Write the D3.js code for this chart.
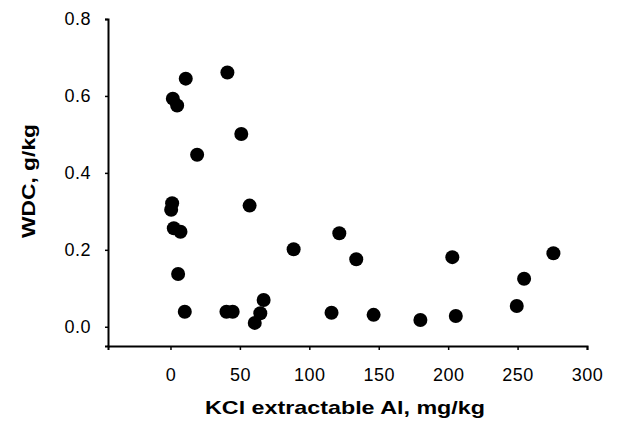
<!DOCTYPE html>
<html><head><meta charset="utf-8">
<script src="https://cdn.jsdelivr.net/npm/d3@7"></script>
<style>body{margin:0;background:#fff}svg{display:block}</style>
</head><body><svg id="c" width="617" height="436"></svg>
<script>
const kclAl = [1.7,4.8,11,41,51,19.2,1.2,0.5,57,2.4,7.2,5.5,10.3,40.3,44.8,60.7,64.7,67.1,88.7,121.6,133.8,116,146.3,180,203,205.5,249.4,254.7,275.8];
const wdc   = [0.593,0.575,0.645,0.661,0.501,0.447,0.321,0.304,0.315,0.256,0.247,0.137,0.039,0.039,0.039,0.010,0.035,0.0695,0.2015,0.243,0.1755,0.0365,0.031,0.0175,0.181,0.028,0.054,0.125,0.191];
const xTicks = [0,50,100,150,200,250,300];
const yTicks = [0.0,0.2,0.4,0.6,0.8];
const xTitle = "KCl extractable Al, mg/kg";
const yTitle = "WDC, g/kg";

const svg = d3.select("#c");
const x = d3.scaleLinear().domain([-45,300]).range([108,587]);
const y = d3.scaleLinear().domain([-0.05,0.8]).range([346,19]);
const font = "'Liberation Sans', Arial, sans-serif";

const xa = svg.append("g").attr("transform","translate(0,346)")
  .call(d3.axisBottom(x).tickValues(xTicks).tickFormat(d3.format("d")).tickSizeOuter(0).tickSize(4).tickPadding(18));
const ya = svg.append("g").attr("transform","translate(108,0)")
  .call(d3.axisLeft(y).tickValues(yTicks).tickFormat(d3.format(".1f")).tickSizeOuter(0).tickSize(3).tickPadding(14));
[xa,ya].forEach(g=>{
  g.select(".domain").attr("stroke","#000").attr("stroke-width",2);
  g.selectAll(".tick line").attr("stroke","#000").attr("stroke-width",1.5);
  g.selectAll(".tick text").attr("fill","#000").style("font-family",font).style("font-size","18px").style("letter-spacing","0.5px");
});

svg.append("g").selectAll("circle").data(kclAl.map((v,i)=>[v,wdc[i]])).join("circle")
  .attr("cx",d=>x(d[0])).attr("cy",d=>y(d[1])).attr("r",7).attr("fill","#000");

svg.append("text").attr("x",345).attr("y",414).attr("text-anchor","middle")
  .attr("textLength",280).attr("lengthAdjust","spacingAndGlyphs")
  .style("font-family",font).style("font-weight","bold").style("font-size","19px").text(xTitle);
svg.append("text").attr("transform","translate(35,181) rotate(-90)").attr("text-anchor","middle")
  .attr("textLength",114).attr("lengthAdjust","spacingAndGlyphs")
  .style("font-family",font).style("font-weight","bold").style("font-size","19px").text(yTitle);
</script></body></html>
